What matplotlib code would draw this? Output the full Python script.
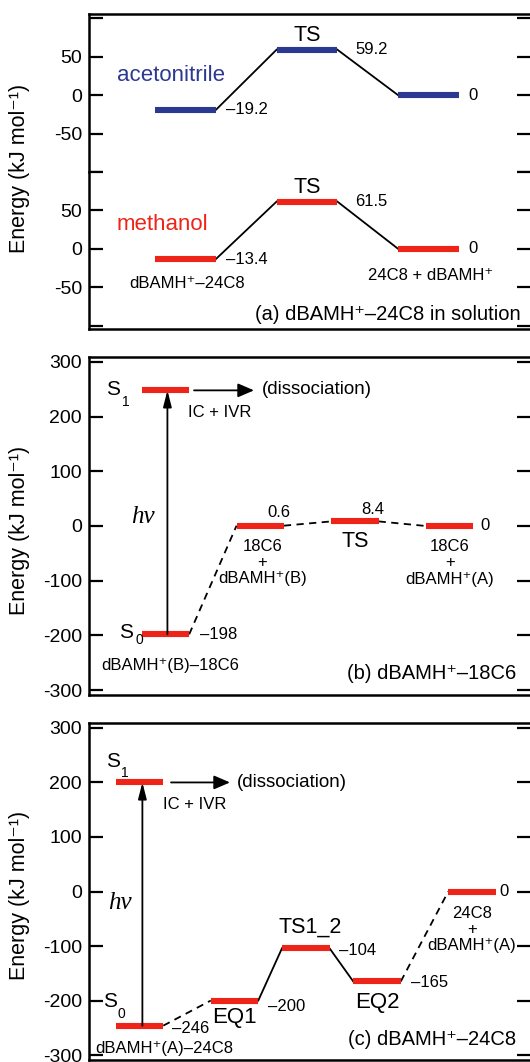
import matplotlib
matplotlib.use('Agg')
import matplotlib.pyplot as plt

plt.rcParams['font.family'] = ['Liberation Sans', 'DejaVu Sans']
plt.rcParams['axes.unicode_minus'] = False

red = '#ee2419'
blue = '#2b3990'

# (a) dBAMH+-24C8 in solution
sol_names = ['dBAMH⁺–24C8', 'TS', '24C8 + dBAMH⁺']
acn_energy = [-19.2, 59.2, 0]
meoh_energy = [-13.4, 61.5, 0]
acn_labels = ['–19.2', '59.2', '0']
meoh_labels = ['–13.4', '61.5', '0']

# (b) dBAMH+-18C6
b_names = ['dBAMH⁺(B)–18C6', '18C6\n+\ndBAMH⁺(B)', 'TS', '18C6\n+\ndBAMH⁺(A)']
b_energy = [-198, 0.6, 8.4, 0]
b_labels = ['–198', '0.6', '8.4', '0']
b_s1 = 248
b_links = ['--', '--', '--']

# (c) dBAMH+-24C8
c_names = ['dBAMH⁺(A)–24C8', 'EQ1', 'TS1_2', 'EQ2', '24C8\n+\ndBAMH⁺(A)']
c_energy = [-246, -200, -104, -165, 0]
c_labels = ['–246', '–200', '–104', '–165', '0']
c_s1 = 200
c_links = ['--', '-', '-', '--']

# slot positions of the levels along x
a_x = [1, 2, 3]
b_x = [1, 2, 3, 4]
c_x = [1, 2, 2.75, 3.5, 4.5]
half = 0.25

W, H = 530, 1062
fig = plt.figure(figsize=(W / 100, H / 100), dpi=100)


def frame(top, bottom):
    return [89 / W, 1 - bottom / H, 442 / W, (bottom - top) / H]


ax_a1 = fig.add_axes(frame(14, 172))
ax_a2 = fig.add_axes(frame(172, 329))
ax_b = fig.add_axes(frame(357, 695))
ax_c = fig.add_axes(frame(723, 1060))

for ax in [ax_a1, ax_a2, ax_b, ax_c]:
    ax.set_xticks([])
    ax.tick_params(axis='y', direction='in', length=10, width=1.6,
                   right=True, labelsize=14, pad=5)
    for s in ax.spines.values():
        s.set_linewidth(1.8)

ax_a1.spines['bottom'].set_visible(False)
ax_a2.spines['top'].set_visible(False)
ax_a1.set_ylim(-100, 105.6)
ax_a2.set_ylim(-104.4, 100)
for ax in [ax_a1, ax_a2]:
    ax.set_xlim(0.206, 3.844)
    ax.set_yticks([-100, -50, 0, 50, 100])
    ax.set_yticklabels(['', '-50', '0', '50', ''])
ax_b.set_xlim(0.192, 4.859)
ax_c.set_xlim(0.468, 5.121)
for ax in [ax_b, ax_c]:
    ax.set_ylim(-309, 309)
    ax.set_yticks([-300, -200, -100, 0, 100, 200, 300])

NUM = 12
NAME = 12
BIG = 15.5


def levels(ax, xs, es, color, links):
    for x, e in zip(xs, es):
        ax.plot([x - half, x + half], [e, e], color=color, lw=4.4,
                solid_capstyle='butt', zorder=3)
    for i, ls in enumerate(links):
        ax.plot([xs[i] + half, xs[i + 1] - half], [es[i], es[i + 1]],
                color='k', lw=1.3, linestyle=ls if ls == '-' else (0, (4, 3)),
                zorder=2)


def note(ax, x, y, s, dx, dy, **kw):
    ax.annotate(s, xy=(x, y), xytext=(dx, dy), textcoords='offset pixels', **kw)


def put(ax, px, y, s, **kw):
    ax.text((px - 89) / 442, y, s, transform=ax.get_yaxis_transform(), **kw)


def arrows(ax, x, e0, e1, hx0, hx1):
    ax.annotate('', xy=(x, e1), xytext=(x, e0),
                arrowprops=dict(arrowstyle='-|>,head_length=0.7,head_width=0.18',
                                mutation_scale=14, lw=1.3, color='k',
                                shrinkA=0, shrinkB=0))
    ax.annotate('', xy=((hx1 - 89) / 442, e1), xytext=((hx0 - 89) / 442, e1),
                xycoords=ax.get_yaxis_transform(),
                arrowprops=dict(arrowstyle='-|>,head_length=0.65,head_width=0.28',
                                mutation_scale=15, lw=1.3, color='k',
                                shrinkA=0, shrinkB=0))


# ---- panel (a)
levels(ax_a1, a_x, acn_energy, blue, ['-', '-'])
levels(ax_a2, a_x, meoh_energy, red, ['-', '-'])
for ax, es, labs in [(ax_a1, acn_energy, acn_labels), (ax_a2, meoh_energy, meoh_labels)]:
    for x, e, lab, dx in zip(a_x, es, labs, [10, 18, 10]):
        note(ax, x + half, e, lab, dx, 0, ha='left', va='center', fontsize=NUM)
    note(ax, a_x[1], es[1], 'TS', 0, 14, ha='center', va='center', fontsize=BIG)
put(ax_a1, 117, 26, 'acetonitrile', color=blue, fontsize=16, va='center')
put(ax_a2, 117, 31, 'methanol', color=red, fontsize=16, va='center')
note(ax_a2, a_x[0], meoh_energy[0], sol_names[0], 2, -24, ha='center', va='center', fontsize=NAME)
note(ax_a2, a_x[2], meoh_energy[2], sol_names[2], 2, -27, ha='center', va='center', fontsize=NAME)
put(ax_a2, 521, -85, '(a) dBAMH⁺–24C8 in solution', ha='right', va='center', fontsize=14.5)

# ---- panel (b)
levels(ax_b, b_x, b_energy, red, b_links)
ax_b.plot([b_x[0] - half, b_x[0] + half], [b_s1, b_s1], color=red, lw=4.4,
          solid_capstyle='butt', zorder=3)
note(ax_b, b_x[0] + half, b_energy[0], b_labels[0], 11, 0, ha='left', va='center', fontsize=NUM)
note(ax_b, b_x[1] + half, b_energy[1], b_labels[1], -5, 13, ha='center', va='center', fontsize=NUM)
note(ax_b, b_x[2] + half, b_energy[2], b_labels[2], -6, 12, ha='center', va='center', fontsize=NUM)
note(ax_b, b_x[3] + half, b_energy[3], b_labels[3], 7, 0, ha='left', va='center', fontsize=NUM)
note(ax_b, b_x[0], b_energy[0], b_names[0], 5, -31, ha='center', va='center', fontsize=NAME)
note(ax_b, b_x[1], b_energy[1], b_names[1], 2, -37, ha='center', va='center',
     fontsize=NAME, linespacing=1.1)
note(ax_b, b_x[2], b_energy[2], b_names[2], 0, -20, ha='center', va='center', fontsize=BIG)
note(ax_b, b_x[3], b_energy[3], b_names[3], 0, -37, ha='center', va='center',
     fontsize=NAME, linespacing=1.1)
arrows(ax_b, b_x[0] + 0.02, b_energy[0], b_s1, 194, 254)
put(ax_b, 262, 250, '(dissociation)', va='center', fontsize=13.5)
put(ax_b, 188, 207, 'IC + IVR', va='center', fontsize=12)
put(ax_b, 120, 250, 'S', ha='right', va='center', fontsize=15)
put(ax_b, 122, 226, '1', ha='left', va='center', fontsize=10)
put(ax_b, 133, -194, 'S', ha='right', va='center', fontsize=15)
put(ax_b, 135, -209, '0', ha='left', va='center', fontsize=10)
put(ax_b, 143, 16, 'hν', ha='center', va='center', fontsize=18,
    family='Liberation Serif', style='italic')
put(ax_b, 516, -270, '(b) dBAMH⁺–18C6', ha='right', va='center', fontsize=14.5)

# ---- panel (c)
levels(ax_c, c_x, c_energy, red, c_links)
ax_c.plot([c_x[0] - half, c_x[0] + half], [c_s1, c_s1], color=red, lw=4.4,
          solid_capstyle='butt', zorder=3)
for x, e, lab, dx, dy in zip(c_x, c_energy, c_labels, [9, 10, 9, 10, 4], [-3, -6, -2, -1, 0]):
    note(ax_c, x + half, e, lab, dx, dy, ha='left', va='center', fontsize=NUM)
note(ax_c, c_x[0], c_energy[0], c_names[0], 25, -23, ha='center', va='center', fontsize=NAME)
note(ax_c, c_x[1], c_energy[1], c_names[1], 0, -17, ha='center', va='center', fontsize=16)
note(ax_c, c_x[2], c_energy[2], c_names[2], 4, 21, ha='center', va='center', fontsize=BIG)
note(ax_c, c_x[3], c_energy[3], c_names[3], 0, -21, ha='center', va='center', fontsize=16)
note(ax_c, c_x[4], c_energy[4], c_names[4], 0, -38, ha='center', va='center',
     fontsize=NAME, linespacing=1.1)
arrows(ax_c, c_x[0] + 0.03, c_energy[0], c_s1, 171, 230)
put(ax_c, 237, 200, '(dissociation)', va='center', fontsize=13.5)
put(ax_c, 163, 160, 'IC + IVR', va='center', fontsize=12)
put(ax_c, 120, 238, 'S', ha='right', va='center', fontsize=15)
put(ax_c, 121, 218, '1', ha='left', va='center', fontsize=10)
put(ax_c, 117, -202, 'S', ha='right', va='center', fontsize=15)
put(ax_c, 118, -224, '0', ha='left', va='center', fontsize=10)
put(ax_c, 120, -21, 'hν', ha='center', va='center', fontsize=18,
    family='Liberation Serif', style='italic')
put(ax_c, 516, -272, '(c) dBAMH⁺–24C8', ha='right', va='center', fontsize=14.5)

# y labels
for yc in [168, 530, 895]:
    fig.text(20 / W, 1 - yc / H, 'Energy (kJ mol⁻¹)', rotation=90,
             ha='center', va='center', fontsize=15.5)

fig.savefig('out.png', dpi=100)
